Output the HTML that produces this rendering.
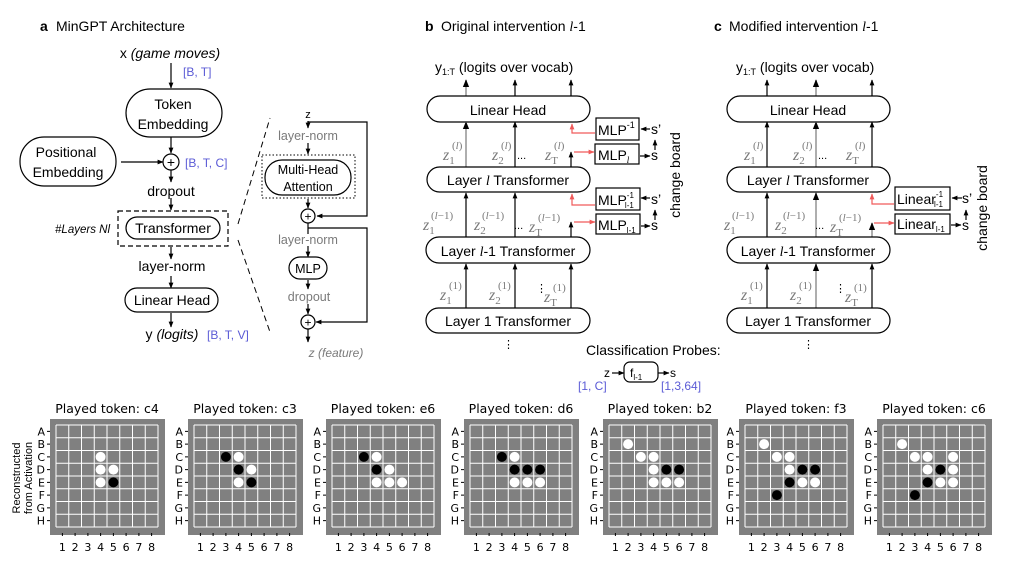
<!DOCTYPE html>
<html><head><meta charset="utf-8">
<style>
body{margin:0;background:#fff}
svg{display:block}
text{font-family:"Liberation Sans",sans-serif;fill:#000}
.t{font-size:14px}
.b{font-weight:bold}
.bl{fill:#5b5bd6;font-size:12px}
.g{fill:#7a7a7a}
.z{font-family:"Liberation Serif",serif;font-style:italic;font-size:16px;fill:#7a7a7a}
.zs{font-family:"Liberation Serif",serif;font-style:normal;font-size:11px;fill:#7a7a7a}
.bt{font-family:"DejaVu Sans",sans-serif;font-size:12.5px}
.rl{font-family:"DejaVu Sans",sans-serif;font-size:11px;text-anchor:end}
.cl{font-family:"DejaVu Sans",sans-serif;font-size:11px;text-anchor:middle}
.ln{stroke:#000;stroke-width:1.2;fill:none}
.gl{stroke:#999;stroke-width:1.6;fill:none}
.rd{stroke:#f05a5a;stroke-width:1.2;fill:none}
.box{fill:#fff;stroke:#000;stroke-width:1.2}
.W{fill:#fff}.K{fill:#000}
</style></head><body>
<svg width="1017" height="561" viewBox="0 0 1017 561" xmlns="http://www.w3.org/2000/svg">
<defs>
<marker id="a" viewBox="0 0 10 10" refX="9" refY="5" markerWidth="5" markerHeight="5" orient="auto"><path d="M0,1L10,5L0,9z" fill="#000"/></marker>
<marker id="r" viewBox="0 0 10 10" refX="9" refY="5" markerWidth="5" markerHeight="5" orient="auto"><path d="M0,1L10,5L0,9z" fill="#f05a5a"/></marker>
<g id="bd">
<rect x="-6" y="-6" width="115" height="116" fill="#808080"/>
<path d="M0,0V102M12.75,0V102M25.5,0V102M38.25,0V102M51,0V102M63.75,0V102M76.5,0V102M89.25,0V102M102,0V102M0,0H102M0,12.75H102M0,25.5H102M0,38.25H102M0,51H102M0,63.75H102M0,76.5H102M0,89.25H102M0,102H102" stroke="#fff" stroke-width="1"/>
<path d="M-9,6.4h3M-9,19.1h3M-9,31.9h3M-9,44.6h3M-9,57.4h3M-9,70.1h3M-9,82.9h3M-9,95.6h3M6.4,108v3M19.1,108v3M31.9,108v3M44.6,108v3M57.4,108v3M70.1,108v3M82.9,108v3M95.6,108v3" stroke="#000" stroke-width="1"/>
</g>
</defs>

<!-- Panel a -->
<text x="40" y="31" class="t b">a</text><text x="56" y="31" class="t">MinGPT Architecture</text>
<text x="170" y="58" class="t" text-anchor="middle">x <tspan font-style="italic">(game moves)</tspan></text>
<line x1="171" y1="63" x2="171" y2="88" class="ln" marker-end="url(#a)"/>
<text x="183" y="76" class="bl">[B, T]</text>
<rect x="126" y="89" width="96" height="48" rx="24" class="box"/>
<text x="173" y="109" class="t" text-anchor="middle">Token</text>
<text x="173" y="129" class="t" text-anchor="middle">Embedding</text>
<rect x="20" y="137" width="96" height="49" rx="24" class="box"/>
<text x="66" y="157" class="t" text-anchor="middle">Positional</text>
<text x="68" y="177" class="t" text-anchor="middle">Embedding</text>
<line x1="121" y1="162" x2="163" y2="162" class="ln" marker-end="url(#a)"/>
<line x1="171" y1="137" x2="171" y2="153" class="ln" marker-end="url(#a)"/>
<circle cx="171" cy="162" r="8" class="box"/><text x="171" y="167" class="t" text-anchor="middle">+</text>
<text x="185" y="167" class="bl">[B, T, C]</text>
<line x1="171" y1="170" x2="171" y2="182" class="ln" marker-end="url(#a)"/>
<text x="171" y="196" class="t" text-anchor="middle">dropout</text>
<line x1="171" y1="198" x2="171" y2="210" class="ln" marker-end="url(#a)"/>
<rect x="118" y="211" width="110" height="35" fill="none" stroke="#000" stroke-width="1.2" stroke-dasharray="5,3"/>
<rect x="126" y="217" width="94" height="22" rx="11" class="box"/>
<text x="173" y="233" class="t" text-anchor="middle">Transformer</text>
<text x="110" y="233" font-size="11.5" font-style="italic" fill="#444" text-anchor="end">#Layers Nl</text>
<line x1="171" y1="247" x2="171" y2="259" class="ln" marker-end="url(#a)"/>
<text x="172" y="271" class="t" text-anchor="middle">layer-norm</text>
<line x1="171" y1="276" x2="171" y2="288" class="ln" marker-end="url(#a)"/>
<rect x="125" y="288" width="93" height="24" rx="12" class="box"/>
<text x="172" y="305" class="t" text-anchor="middle">Linear Head</text>
<line x1="171" y1="313" x2="171" y2="327" class="ln" marker-end="url(#a)"/>
<text x="172" y="339" class="t" text-anchor="middle">y <tspan font-style="italic">(logits)</tspan></text>
<text x="207" y="339" class="bl">[B, T, V]</text>
<line x1="238" y1="224" x2="270" y2="118" stroke="#000" stroke-width="1" stroke-dasharray="6,4"/>
<line x1="238" y1="240" x2="270" y2="332" stroke="#000" stroke-width="1" stroke-dasharray="6,4"/>
<text x="308" y="118" font-size="11" text-anchor="middle">z</text>
<line x1="308" y1="121" x2="308" y2="128" class="ln" marker-end="url(#a)"/>
<polyline points="308,122 367,122 367,216 317,216" class="ln" marker-end="url(#a)"/>
<text x="308" y="140" font-size="12.5" class="g" text-anchor="middle">layer-norm</text>
<line x1="308" y1="143" x2="308" y2="154" class="ln" marker-end="url(#a)"/>
<rect x="262" y="155" width="93" height="43" fill="none" stroke="#000" stroke-width="1" stroke-dasharray="1.5,2"/>
<rect x="265" y="160" width="86" height="35" rx="17" class="box"/>
<text x="308" y="174" font-size="12.5" text-anchor="middle">Multi-Head</text>
<text x="308" y="191" font-size="12.5" text-anchor="middle">Attention</text>
<line x1="308" y1="199" x2="308" y2="208" class="ln" marker-end="url(#a)"/>
<circle cx="308" cy="216" r="7" class="box"/><text x="308" y="220.5" font-size="12" text-anchor="middle">+</text>
<line x1="308" y1="223" x2="308" y2="234" class="ln"/>
<polyline points="308,228 367,228 367,322 316,322" class="ln" marker-end="url(#a)"/>
<text x="308" y="244" font-size="12.5" class="g" text-anchor="middle">layer-norm</text>
<line x1="308" y1="246" x2="308" y2="257" class="ln" marker-end="url(#a)"/>
<rect x="289" y="257" width="38" height="22" rx="11" class="box"/>
<text x="308" y="273" font-size="12.5" text-anchor="middle">MLP</text>
<line x1="308" y1="280" x2="308" y2="289" class="ln" marker-end="url(#a)"/>
<text x="309" y="301" font-size="12.5" class="g" text-anchor="middle">dropout</text>
<line x1="308" y1="304" x2="308" y2="314" class="ln" marker-end="url(#a)"/>
<circle cx="308" cy="322" r="7" class="box"/><text x="308" y="326.5" font-size="12" text-anchor="middle">+</text>
<line x1="308" y1="329" x2="308" y2="342" class="ln" marker-end="url(#a)"/>
<text x="336" y="357" font-size="12" class="g" font-style="italic" text-anchor="middle">z (feature)</text>

<!-- Panel b -->
<text x="425" y="31" class="t b">b</text><text x="441" y="31" class="t">Original intervention <tspan font-family="Liberation Serif" font-style="italic">l</tspan>-1</text>
<text x="435" y="72" class="t">y<tspan font-size="9" dy="3">1:T</tspan><tspan dy="-3"> (logits over vocab)</tspan></text>
<line x1="466" y1="96" x2="466" y2="80" class="gl" marker-end="url(#a)"/>
<line x1="515" y1="96" x2="515" y2="80" class="ln" marker-end="url(#a)"/>
<line x1="571" y1="96" x2="571" y2="80" class="ln" marker-end="url(#a)"/>
<rect x="427" y="96" width="163" height="26" rx="13" class="box"/>
<text x="508" y="115" class="t" text-anchor="middle">Linear Head</text>
<line x1="466" y1="167" x2="466" y2="122" class="gl" marker-end="url(#a)"/>
<line x1="515" y1="167" x2="515" y2="122" class="ln" marker-end="url(#a)"/>
<line x1="571" y1="167" x2="571" y2="152" class="ln" marker-end="url(#a)"/>
<text x="443" y="160" class="z">z<tspan class="zs" dy="4">1</tspan></text><text x="452" y="149" class="zs">(<tspan font-style="italic">l</tspan>)</text>
<text x="492" y="160" class="z">z<tspan class="zs" dy="4">2</tspan></text><text x="501" y="149" class="zs">(<tspan font-style="italic">l</tspan>)</text>
<text x="517" y="159" font-size="11">...</text>
<text x="545" y="160" class="z">z<tspan class="zs" dy="4" font-style="italic">T</tspan></text><text x="554" y="149" class="zs">(<tspan font-style="italic">l</tspan>)</text>
<rect x="427" y="167" width="163" height="25" rx="12.5" class="box"/>
<text x="508" y="185" class="t" text-anchor="middle">Layer <tspan font-family="Liberation Serif" font-style="italic">l</tspan> Transformer</text>
<line x1="466" y1="237" x2="466" y2="193" class="ln" marker-end="url(#a)"/>
<line x1="515" y1="237" x2="515" y2="193" class="ln" marker-end="url(#a)"/>
<line x1="571" y1="237" x2="571" y2="222" class="ln" marker-end="url(#a)"/>
<text x="423" y="230" class="z">z<tspan class="zs" dy="4">1</tspan></text><text x="431" y="219" class="zs">(<tspan font-style="italic">l</tspan>−1)</text>
<text x="474" y="230" class="z">z<tspan class="zs" dy="4">2</tspan></text><text x="482" y="219" class="zs">(<tspan font-style="italic">l</tspan>−1)</text>
<text x="514" y="229" font-size="11">...</text>
<text x="529" y="232" class="z">z<tspan class="zs" dy="4" font-style="italic">T</tspan></text><text x="538" y="221" class="zs">(<tspan font-style="italic">l</tspan>−1)</text>
<rect x="426" y="237" width="164" height="26" rx="13" class="box"/>
<text x="508" y="256" class="t" text-anchor="middle">Layer <tspan font-family="Liberation Serif" font-style="italic">l</tspan>-1 Transformer</text>
<line x1="466" y1="308" x2="466" y2="264" class="ln" marker-end="url(#a)"/>
<line x1="515" y1="308" x2="515" y2="264" class="ln" marker-end="url(#a)"/>
<line x1="571" y1="308" x2="571" y2="264" class="ln" marker-end="url(#a)"/>
<text x="440" y="300" class="z">z<tspan class="zs" dy="4">1</tspan></text><text x="449" y="289" class="zs">(1)</text>
<text x="489" y="300" class="z">z<tspan class="zs" dy="4">2</tspan></text><text x="498" y="289" class="zs">(1)</text>
<text x="536" y="292" font-size="11">⋮</text>
<text x="544" y="302" class="z">z<tspan class="zs" dy="4" font-style="italic">T</tspan></text><text x="553" y="291" class="zs">(1)</text>
<rect x="426" y="308" width="164" height="25" rx="12.5" class="box"/>
<text x="508" y="326" class="t" text-anchor="middle">Layer 1 Transformer</text>
<text x="503" y="348" font-size="11">⋮</text>
<rect x="596" y="118" width="43" height="22" fill="#fff" stroke="#000" stroke-width="1.2"/>
<text x="598" y="135" class="t">MLP<tspan font-size="9" dy="-7">-1</tspan></text>
<rect x="595" y="144" width="44" height="20" fill="#fff" stroke="#000" stroke-width="1.2"/>
<text x="598" y="160" class="t">MLP<tspan font-size="9" dy="3" font-family="Liberation Serif" font-style="italic">l</tspan></text>
<polyline points="595,133 572,133 572,124" class="rd" marker-end="url(#r)"/>
<line x1="574" y1="152" x2="594" y2="152" class="rd" marker-end="url(#r)"/>
<line x1="650" y1="129" x2="641" y2="129" class="ln" marker-end="url(#a)"/>
<text x="651" y="134" class="t">s’</text>
<line x1="655" y1="150" x2="655" y2="140" class="ln" marker-end="url(#a)"/>
<line x1="640" y1="156" x2="650" y2="156" class="ln" marker-end="url(#a)"/>
<text x="651" y="160" class="t">s</text>
<rect x="596" y="188" width="44" height="22" fill="#fff" stroke="#000" stroke-width="1.2"/>
<text x="598" y="205" class="t">MLP<tspan font-size="8" dy="-7">-1</tspan><tspan font-size="8" dx="-9" dy="10">l-1</tspan></text>
<rect x="596" y="214" width="44" height="20" fill="#fff" stroke="#000" stroke-width="1.2"/>
<text x="598" y="230" class="t">MLP<tspan font-size="8" dy="3">l-1</tspan></text>
<polyline points="595,205 572,205 572,194" class="rd" marker-end="url(#r)"/>
<line x1="574" y1="222" x2="595" y2="222" class="rd" marker-end="url(#r)"/>
<line x1="650" y1="198" x2="641" y2="198" class="ln" marker-end="url(#a)"/>
<text x="651" y="204" class="t">s’</text>
<line x1="655" y1="220" x2="655" y2="210" class="ln" marker-end="url(#a)"/>
<line x1="641" y1="226" x2="650" y2="226" class="ln" marker-end="url(#a)"/>
<text x="651" y="230" class="t">s</text>
<text transform="translate(680,175) rotate(-90)" class="t" text-anchor="middle">change board</text>
<text x="586" y="355" class="t">Classification Probes:</text>
<text x="604" y="377" font-size="12">z</text>
<line x1="612" y1="373" x2="624" y2="373" class="ln" marker-end="url(#a)"/>
<rect x="624" y="362" width="34" height="20" rx="6" class="box"/>
<text x="630" y="377" font-size="12">f<tspan font-size="8" dy="3">l-1</tspan></text>
<line x1="658" y1="373" x2="669" y2="373" class="ln" marker-end="url(#a)"/>
<text x="670" y="377" font-size="12">s</text>
<text x="578" y="390" class="bl">[1, C]</text>
<text x="661" y="390" class="bl">[1,3,64]</text>

<!-- Panel c -->
<text x="714" y="31" class="t b">c</text><text x="729" y="31" class="t">Modified intervention <tspan font-family="Liberation Serif" font-style="italic">l</tspan>-1</text>
<text x="736" y="72" class="t">y<tspan font-size="9" dy="3">1:T</tspan><tspan dy="-3"> (logits over vocab)</tspan></text>
<line x1="767" y1="96" x2="767" y2="80" class="ln" marker-end="url(#a)"/>
<line x1="816" y1="96" x2="816" y2="80" class="gl" marker-end="url(#a)"/>
<line x1="872" y1="96" x2="872" y2="80" class="ln" marker-end="url(#a)"/>
<rect x="727" y="96" width="163" height="26" rx="13" class="box"/>
<text x="808" y="115" class="t" text-anchor="middle">Linear Head</text>
<line x1="767" y1="167" x2="767" y2="122" class="ln" marker-end="url(#a)"/>
<line x1="816" y1="167" x2="816" y2="122" class="gl" marker-end="url(#a)"/>
<line x1="872" y1="167" x2="872" y2="122" class="ln" marker-end="url(#a)"/>
<text x="744" y="160" class="z">z<tspan class="zs" dy="4">1</tspan></text><text x="753" y="149" class="zs">(<tspan font-style="italic">l</tspan>)</text>
<text x="793" y="160" class="z">z<tspan class="zs" dy="4">2</tspan></text><text x="802" y="149" class="zs">(<tspan font-style="italic">l</tspan>)</text>
<text x="818" y="159" font-size="11">...</text>
<text x="846" y="160" class="z">z<tspan class="zs" dy="4" font-style="italic">T</tspan></text><text x="855" y="149" class="zs">(<tspan font-style="italic">l</tspan>)</text>
<rect x="727" y="167" width="163" height="25" rx="12.5" class="box"/>
<text x="808" y="185" class="t" text-anchor="middle">Layer <tspan font-family="Liberation Serif" font-style="italic">l</tspan> Transformer</text>
<line x1="767" y1="237" x2="767" y2="193" class="ln" marker-end="url(#a)"/>
<line x1="816" y1="237" x2="816" y2="193" class="gl" marker-end="url(#a)"/>
<line x1="872" y1="237" x2="872" y2="223" class="gl" marker-end="url(#a)"/>
<text x="724" y="230" class="z">z<tspan class="zs" dy="4">1</tspan></text><text x="732" y="219" class="zs">(<tspan font-style="italic">l</tspan>−1)</text>
<text x="775" y="230" class="z">z<tspan class="zs" dy="4">2</tspan></text><text x="783" y="219" class="zs">(<tspan font-style="italic">l</tspan>−1)</text>
<text x="815" y="229" font-size="11">...</text>
<text x="830" y="232" class="z">z<tspan class="zs" dy="4" font-style="italic">T</tspan></text><text x="839" y="221" class="zs">(<tspan font-style="italic">l</tspan>−1)</text>
<rect x="727" y="237" width="163" height="26" rx="13" class="box"/>
<text x="808" y="256" class="t" text-anchor="middle">Layer <tspan font-family="Liberation Serif" font-style="italic">l</tspan>-1 Transformer</text>
<line x1="767" y1="308" x2="767" y2="264" class="ln" marker-end="url(#a)"/>
<line x1="816" y1="308" x2="816" y2="264" class="gl" marker-end="url(#a)"/>
<line x1="872" y1="308" x2="872" y2="264" class="ln" marker-end="url(#a)"/>
<text x="741" y="300" class="z">z<tspan class="zs" dy="4">1</tspan></text><text x="750" y="289" class="zs">(1)</text>
<text x="790" y="300" class="z">z<tspan class="zs" dy="4">2</tspan></text><text x="799" y="289" class="zs">(1)</text>
<text x="835" y="292" font-size="11">⋮</text>
<text x="845" y="302" class="z">z<tspan class="zs" dy="4" font-style="italic">T</tspan></text><text x="854" y="291" class="zs">(1)</text>
<rect x="727" y="308" width="163" height="25" rx="12.5" class="box"/>
<text x="808" y="326" class="t" text-anchor="middle">Layer 1 Transformer</text>
<text x="803" y="348" font-size="11">⋮</text>
<rect x="895" y="187" width="55" height="23" fill="#fff" stroke="#000" stroke-width="1.2"/>
<text x="897" y="204" class="t">Linear<tspan font-size="8" dy="-7">-1</tspan><tspan font-size="8" dx="-9" dy="10">l-1</tspan></text>
<rect x="895" y="214" width="55" height="20" fill="#fff" stroke="#000" stroke-width="1.2"/>
<text x="897" y="229" class="t">Linear<tspan font-size="8" dy="3">l-1</tspan></text>
<polyline points="894,204 872,204 872,194" class="rd" marker-end="url(#r)"/>
<line x1="874" y1="223" x2="894" y2="223" class="rd" marker-end="url(#r)"/>
<line x1="962" y1="198" x2="952" y2="198" class="ln" marker-end="url(#a)"/>
<text x="962" y="203" class="t">s’</text>
<line x1="966" y1="220" x2="966" y2="210" class="ln" marker-end="url(#a)"/>
<line x1="951" y1="225" x2="961" y2="225" class="ln" marker-end="url(#a)"/>
<text x="962" y="230" class="t">s</text>
<text transform="translate(987,208) rotate(-90)" class="t" text-anchor="middle">change board</text>

<!-- Boards -->
<text transform="translate(20,478) rotate(-90)" font-size="11" text-anchor="middle">Reconstructed</text>
<text transform="translate(32,478) rotate(-90)" font-size="11" text-anchor="middle">from Activation</text>

<g transform="translate(56,425)">
<use href="#bd"/>
<text x="51" y="-12" class="bt" text-anchor="middle">Played token: c4</text>
<text x="-11" y="10.4" class="rl">A</text><text x="-11" y="23.1" class="rl">B</text><text x="-11" y="35.9" class="rl">C</text><text x="-11" y="48.6" class="rl">D</text><text x="-11" y="61.4" class="rl">E</text><text x="-11" y="74.1" class="rl">F</text><text x="-11" y="86.9" class="rl">G</text><text x="-11" y="99.6" class="rl">H</text>
<text x="6.4" y="126" class="cl">1</text><text x="19.1" y="126" class="cl">2</text><text x="31.9" y="126" class="cl">3</text><text x="44.6" y="126" class="cl">4</text><text x="57.4" y="126" class="cl">5</text><text x="70.1" y="126" class="cl">6</text><text x="82.9" y="126" class="cl">7</text><text x="95.6" y="126" class="cl">8</text>
<circle cx="44.6" cy="31.9" r="5" class="W"/><circle cx="44.6" cy="44.6" r="5" class="W"/><circle cx="57.4" cy="44.6" r="5" class="W"/><circle cx="44.6" cy="57.4" r="5" class="W"/><circle cx="57.4" cy="57.4" r="5" class="K"/>
</g>

<g transform="translate(194,425)">
<use href="#bd"/>
<text x="51" y="-12" class="bt" text-anchor="middle">Played token: c3</text>
<text x="-11" y="10.4" class="rl">A</text><text x="-11" y="23.1" class="rl">B</text><text x="-11" y="35.9" class="rl">C</text><text x="-11" y="48.6" class="rl">D</text><text x="-11" y="61.4" class="rl">E</text><text x="-11" y="74.1" class="rl">F</text><text x="-11" y="86.9" class="rl">G</text><text x="-11" y="99.6" class="rl">H</text>
<text x="6.4" y="126" class="cl">1</text><text x="19.1" y="126" class="cl">2</text><text x="31.9" y="126" class="cl">3</text><text x="44.6" y="126" class="cl">4</text><text x="57.4" y="126" class="cl">5</text><text x="70.1" y="126" class="cl">6</text><text x="82.9" y="126" class="cl">7</text><text x="95.6" y="126" class="cl">8</text>
<circle cx="31.9" cy="31.9" r="5" class="K"/><circle cx="44.6" cy="31.9" r="5" class="W"/><circle cx="44.6" cy="44.6" r="5" class="K"/><circle cx="57.4" cy="44.6" r="5" class="W"/><circle cx="44.6" cy="57.4" r="5" class="W"/><circle cx="57.4" cy="57.4" r="5" class="K"/>
</g>

<g transform="translate(332,425)">
<use href="#bd"/>
<text x="51" y="-12" class="bt" text-anchor="middle">Played token: e6</text>
<text x="-11" y="10.4" class="rl">A</text><text x="-11" y="23.1" class="rl">B</text><text x="-11" y="35.9" class="rl">C</text><text x="-11" y="48.6" class="rl">D</text><text x="-11" y="61.4" class="rl">E</text><text x="-11" y="74.1" class="rl">F</text><text x="-11" y="86.9" class="rl">G</text><text x="-11" y="99.6" class="rl">H</text>
<text x="6.4" y="126" class="cl">1</text><text x="19.1" y="126" class="cl">2</text><text x="31.9" y="126" class="cl">3</text><text x="44.6" y="126" class="cl">4</text><text x="57.4" y="126" class="cl">5</text><text x="70.1" y="126" class="cl">6</text><text x="82.9" y="126" class="cl">7</text><text x="95.6" y="126" class="cl">8</text>
<circle cx="31.9" cy="31.9" r="5" class="K"/><circle cx="44.6" cy="31.9" r="5" class="W"/><circle cx="44.6" cy="44.6" r="5" class="K"/><circle cx="57.4" cy="44.6" r="5" class="W"/><circle cx="44.6" cy="57.4" r="5" class="W"/><circle cx="57.4" cy="57.4" r="5" class="W"/><circle cx="70.1" cy="57.4" r="5" class="W"/>
</g>

<g transform="translate(470,425)">
<use href="#bd"/>
<text x="51" y="-12" class="bt" text-anchor="middle">Played token: d6</text>
<text x="-11" y="10.4" class="rl">A</text><text x="-11" y="23.1" class="rl">B</text><text x="-11" y="35.9" class="rl">C</text><text x="-11" y="48.6" class="rl">D</text><text x="-11" y="61.4" class="rl">E</text><text x="-11" y="74.1" class="rl">F</text><text x="-11" y="86.9" class="rl">G</text><text x="-11" y="99.6" class="rl">H</text>
<text x="6.4" y="126" class="cl">1</text><text x="19.1" y="126" class="cl">2</text><text x="31.9" y="126" class="cl">3</text><text x="44.6" y="126" class="cl">4</text><text x="57.4" y="126" class="cl">5</text><text x="70.1" y="126" class="cl">6</text><text x="82.9" y="126" class="cl">7</text><text x="95.6" y="126" class="cl">8</text>
<circle cx="31.9" cy="31.9" r="5" class="K"/><circle cx="44.6" cy="31.9" r="5" class="W"/><circle cx="44.6" cy="44.6" r="5" class="K"/><circle cx="57.4" cy="44.6" r="5" class="K"/><circle cx="70.1" cy="44.6" r="5" class="K"/><circle cx="44.6" cy="57.4" r="5" class="W"/><circle cx="57.4" cy="57.4" r="5" class="W"/><circle cx="70.1" cy="57.4" r="5" class="W"/>
</g>

<g transform="translate(609,425)">
<use href="#bd"/>
<text x="51" y="-12" class="bt" text-anchor="middle">Played token: b2</text>
<text x="-11" y="10.4" class="rl">A</text><text x="-11" y="23.1" class="rl">B</text><text x="-11" y="35.9" class="rl">C</text><text x="-11" y="48.6" class="rl">D</text><text x="-11" y="61.4" class="rl">E</text><text x="-11" y="74.1" class="rl">F</text><text x="-11" y="86.9" class="rl">G</text><text x="-11" y="99.6" class="rl">H</text>
<text x="6.4" y="126" class="cl">1</text><text x="19.1" y="126" class="cl">2</text><text x="31.9" y="126" class="cl">3</text><text x="44.6" y="126" class="cl">4</text><text x="57.4" y="126" class="cl">5</text><text x="70.1" y="126" class="cl">6</text><text x="82.9" y="126" class="cl">7</text><text x="95.6" y="126" class="cl">8</text>
<circle cx="19.1" cy="19.1" r="5" class="W"/><circle cx="31.9" cy="31.9" r="5" class="W"/><circle cx="44.6" cy="31.9" r="5" class="W"/><circle cx="44.6" cy="44.6" r="5" class="W"/><circle cx="57.4" cy="44.6" r="5" class="K"/><circle cx="70.1" cy="44.6" r="5" class="K"/><circle cx="44.6" cy="57.4" r="5" class="W"/><circle cx="57.4" cy="57.4" r="5" class="W"/><circle cx="70.1" cy="57.4" r="5" class="W"/>
</g>

<g transform="translate(745,425)">
<use href="#bd"/>
<text x="51" y="-12" class="bt" text-anchor="middle">Played token: f3</text>
<text x="-11" y="10.4" class="rl">A</text><text x="-11" y="23.1" class="rl">B</text><text x="-11" y="35.9" class="rl">C</text><text x="-11" y="48.6" class="rl">D</text><text x="-11" y="61.4" class="rl">E</text><text x="-11" y="74.1" class="rl">F</text><text x="-11" y="86.9" class="rl">G</text><text x="-11" y="99.6" class="rl">H</text>
<text x="6.4" y="126" class="cl">1</text><text x="19.1" y="126" class="cl">2</text><text x="31.9" y="126" class="cl">3</text><text x="44.6" y="126" class="cl">4</text><text x="57.4" y="126" class="cl">5</text><text x="70.1" y="126" class="cl">6</text><text x="82.9" y="126" class="cl">7</text><text x="95.6" y="126" class="cl">8</text>
<circle cx="19.1" cy="19.1" r="5" class="W"/><circle cx="31.9" cy="31.9" r="5" class="W"/><circle cx="44.6" cy="31.9" r="5" class="W"/><circle cx="44.6" cy="44.6" r="5" class="W"/><circle cx="57.4" cy="44.6" r="5" class="K"/><circle cx="70.1" cy="44.6" r="5" class="K"/><circle cx="44.6" cy="57.4" r="5" class="K"/><circle cx="57.4" cy="57.4" r="5" class="W"/><circle cx="70.1" cy="57.4" r="5" class="W"/><circle cx="31.9" cy="70.1" r="5" class="K"/>
</g>

<g transform="translate(883,425)">
<use href="#bd"/>
<text x="51" y="-12" class="bt" text-anchor="middle">Played token: c6</text>
<text x="-11" y="10.4" class="rl">A</text><text x="-11" y="23.1" class="rl">B</text><text x="-11" y="35.9" class="rl">C</text><text x="-11" y="48.6" class="rl">D</text><text x="-11" y="61.4" class="rl">E</text><text x="-11" y="74.1" class="rl">F</text><text x="-11" y="86.9" class="rl">G</text><text x="-11" y="99.6" class="rl">H</text>
<text x="6.4" y="126" class="cl">1</text><text x="19.1" y="126" class="cl">2</text><text x="31.9" y="126" class="cl">3</text><text x="44.6" y="126" class="cl">4</text><text x="57.4" y="126" class="cl">5</text><text x="70.1" y="126" class="cl">6</text><text x="82.9" y="126" class="cl">7</text><text x="95.6" y="126" class="cl">8</text>
<circle cx="19.1" cy="19.1" r="5" class="W"/><circle cx="31.9" cy="31.9" r="5" class="W"/><circle cx="44.6" cy="31.9" r="5" class="W"/><circle cx="70.1" cy="31.9" r="5" class="W"/><circle cx="44.6" cy="44.6" r="5" class="W"/><circle cx="57.4" cy="44.6" r="5" class="K"/><circle cx="70.1" cy="44.6" r="5" class="W"/><circle cx="44.6" cy="57.4" r="5" class="K"/><circle cx="57.4" cy="57.4" r="5" class="W"/><circle cx="70.1" cy="57.4" r="5" class="W"/><circle cx="31.9" cy="70.1" r="5" class="K"/>
</g>
</svg>
</body></html>
